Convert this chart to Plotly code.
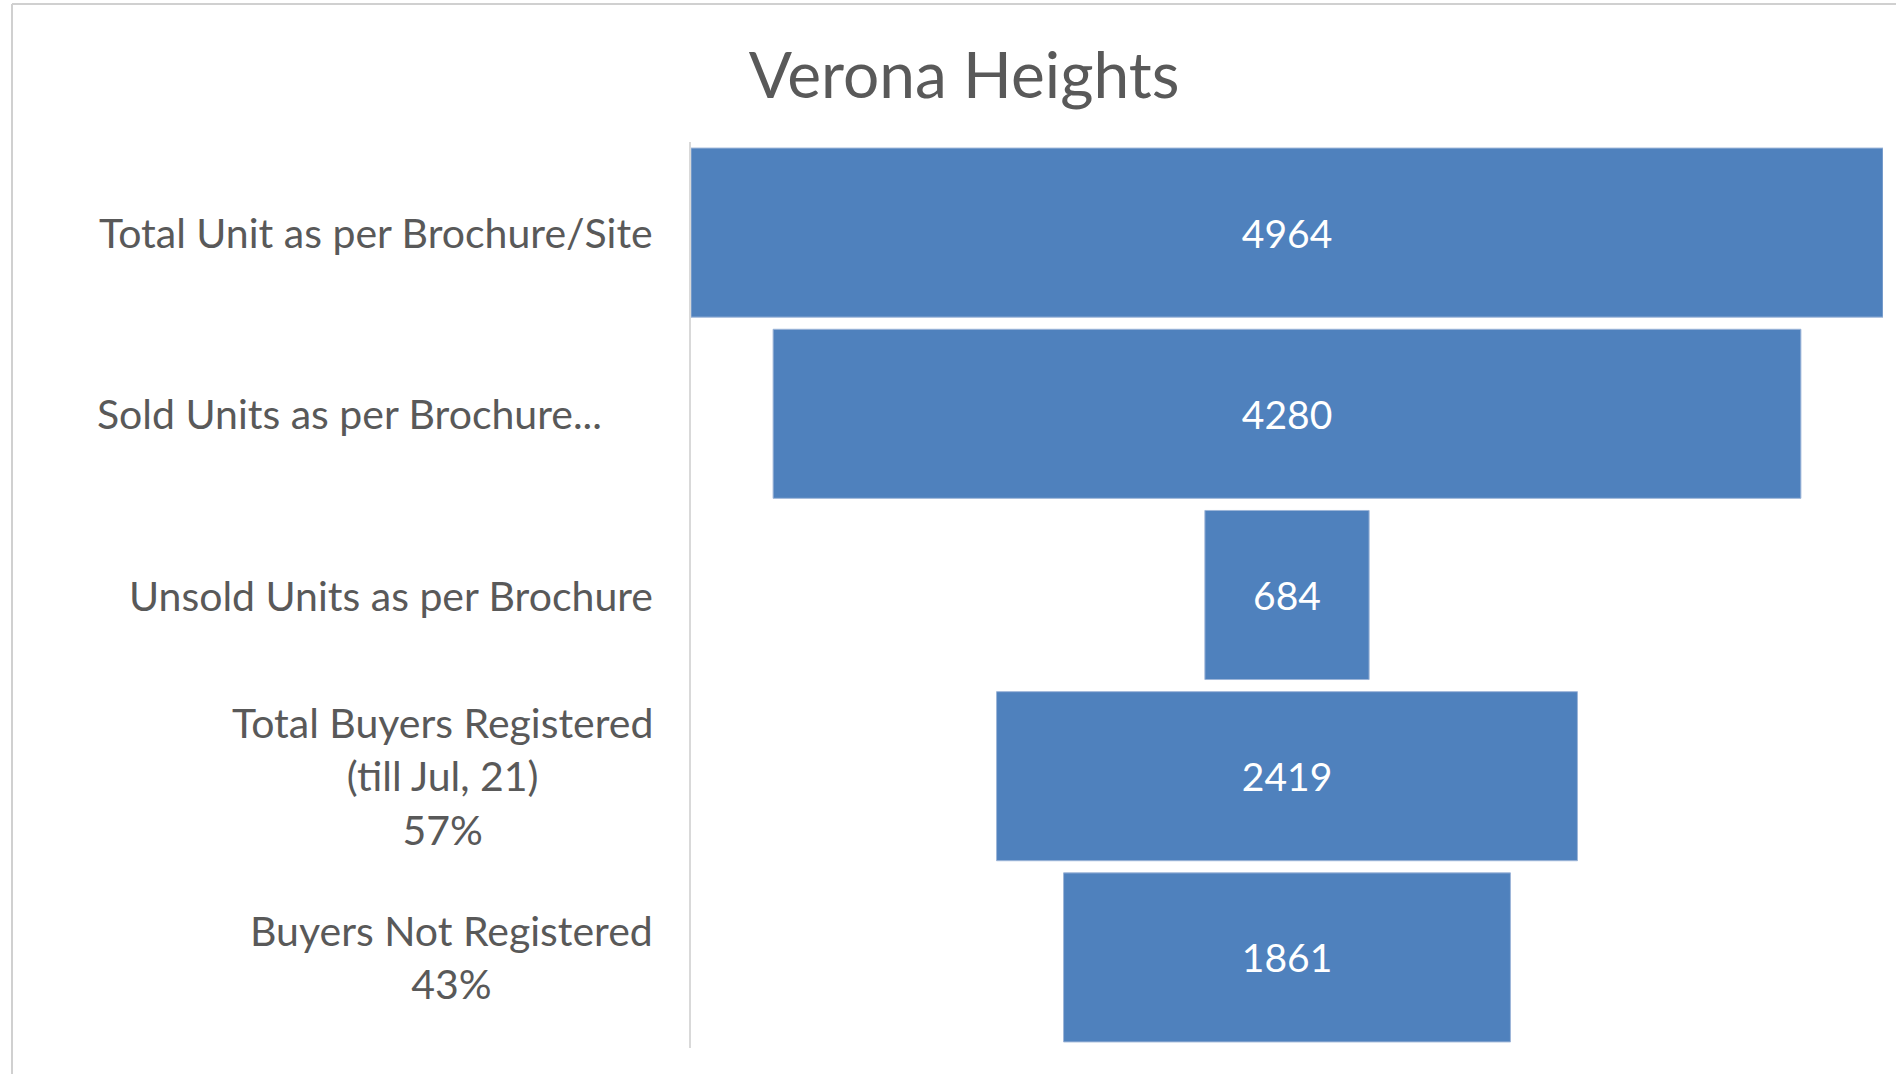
import plotly.graph_objects as go

# ---- data ----
categories = [
    "Total Unit as per Brochure/Site",
    "Sold Units as per Brochure...",
    "Unsold Units as per Brochure",
    "Total Buyers Registered<br>(till Jul, 21)<br>57%",
    "Buyers Not Registered<br>43%",
]
values = [4964, 4280, 684, 2419, 1861]
title_text = "Verona Heights"

# ---- style ----
W, H = 1896, 1074
L, R, T, B = 691, 13, 142, 26
BAR = "#4F81BD"
GRAY = "#595959"
FONT = "Lato"
label_xshift = [-36, -87, -36, -36, -36]

def px_x(p):
    return (p - L) / (W - L - R)

def px_y(p):
    return (H - B - p) / (H - T - B)

fig = go.Figure(go.Funnel(
    y=categories,
    x=values,
    textinfo="value",
    textposition="inside",
    insidetextanchor="middle",
    insidetextfont=dict(color="white", size=39, family=FONT),
    marker=dict(color=BAR, line=dict(color="#9DB5D8", width=1)),
    connector=dict(visible=False),
    hoverinfo="y+x",
))

vmax = max(values)
fig.update_layout(
    width=W, height=H,
    margin=dict(l=L, r=R, t=T, b=B),
    paper_bgcolor="white", plot_bgcolor="white",
    funnelgap=0.067,
    showlegend=False,
    font=dict(family=FONT, color=GRAY),
    title=dict(text=title_text, x=964 / W, xanchor="center",
               y=1 - 76 / H, yanchor="middle", yref="container",
               font=dict(size=64, color=GRAY, family=FONT)),
    xaxis=dict(visible=False, range=[-vmax / 2, vmax / 2], fixedrange=True),
    yaxis=dict(showticklabels=False, showline=True, linecolor="#D9D9D9",
               linewidth=2, showgrid=False, zeroline=False, ticks=""),
)

for i, c in enumerate(categories):
    fig.add_annotation(x=0, xref="paper", y=c, yref="y", text=c,
                       showarrow=False, xanchor="right", yanchor="middle",
                       align="center", xshift=label_xshift[i],
                       font=dict(size=41, color=GRAY, family=FONT))

# chart frame (top and left edges visible)
fig.add_shape(type="line", xref="paper", yref="paper",
              x0=px_x(12), x1=px_x(W + 5), y0=px_y(4), y1=px_y(4),
              line=dict(color="#D0D0D0", width=2))
fig.add_shape(type="line", xref="paper", yref="paper",
              x0=px_x(12), x1=px_x(12), y0=px_y(4), y1=px_y(H + 5),
              line=dict(color="#D0D0D0", width=2))

fig.write_html("out.html")
